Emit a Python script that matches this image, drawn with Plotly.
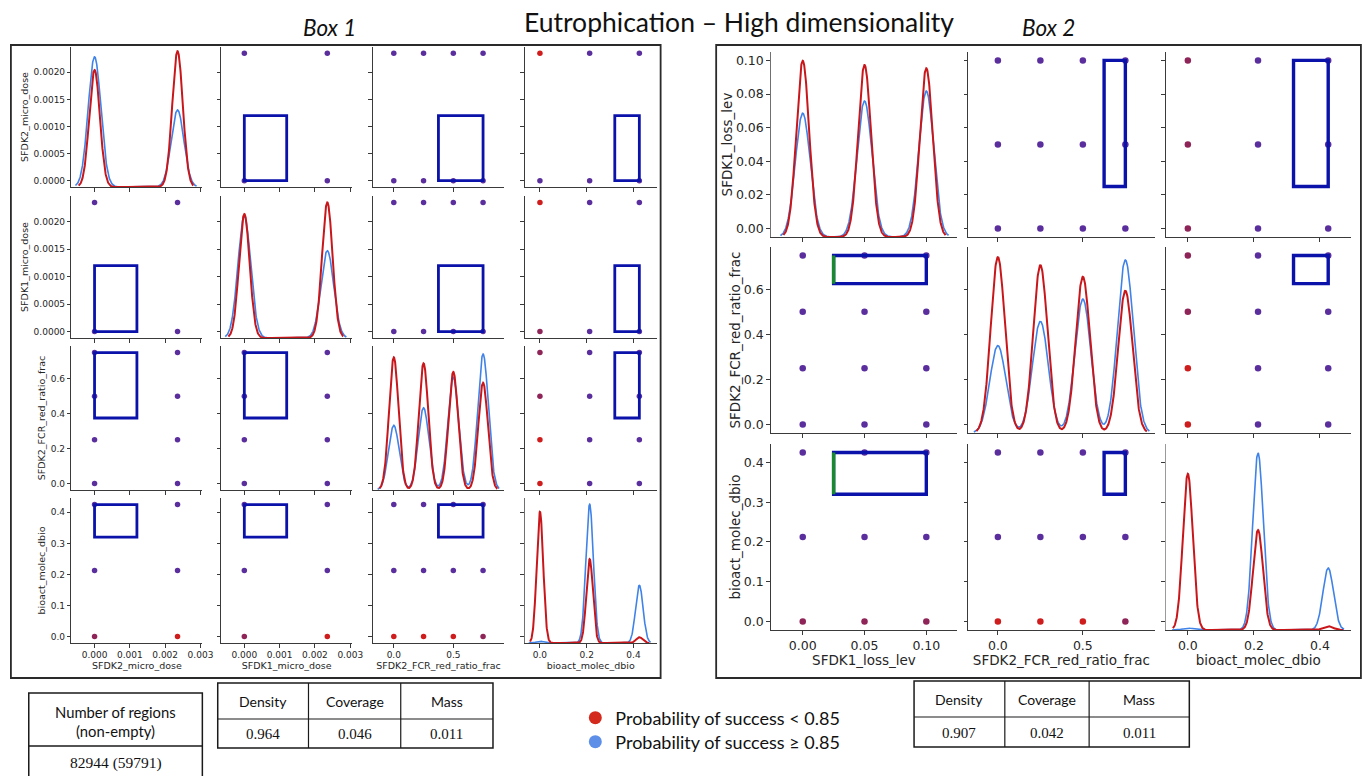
import numpy as np
import plotly.graph_objects as go

# ============================ DATA ============================
TITLE = "Eutrophication – High dimensionality"
BOX_TITLES = ["Box 1", "Box 2"]

# ---- Box 1 (4 variables) ----
B1_VARS = ["SFDK2_micro_dose", "SFDK1_micro_dose", "SFDK2_FCR_red_ratio_frac", "bioact_molec_dbio"]
B1_LEVELS = [[0.0, 0.00235], [0.0, 0.00235], [0.0, 0.25, 0.5, 0.75], [0.0, 0.2125, 0.425]]
B1_BOX = [[0.0, 0.0012], [0.0, 0.0012], [0.375, 0.75], [0.32, 0.425]]
# KDE peak heights (fraction of panel height) at each level
B1_KDE_RED = [[0.836, 0.97], [0.873, 0.955], [0.921, 0.88, 0.82, 0.745], [0.905, 0.579, 0.04]]
B1_KDE_BLUE = [[0.93, 0.55], [0.86, 0.615], [0.449, 0.571, 0.783, 0.944], [0.012, 0.957, 0.398]]
B1_BW_RED = [0.00015, 0.00015, 0.040, 0.014]
B1_BW_BLUE = [0.00018, 0.00018, 0.045, 0.016]
# point colour class per panel (row i = y variable, col j = x variable);
# list over y levels (low -> high), string over x levels.  P purple, R red, M maroon
B1_POINT_CLASS = {
    (0, 1): ["PP", "PP"],
    (0, 2): ["PPPP", "PPPP"],
    (0, 3): ["PPP", "RPP"],
    (1, 0): ["PP", "PP"],
    (1, 2): ["PPPP", "PPPP"],
    (1, 3): ["MPP", "RPP"],
    (2, 0): ["PP", "PP", "PP", "PP"],
    (2, 1): ["PP", "PP", "PP", "PP"],
    (2, 3): ["RPP", "RPP", "MPP", "MPP"],
    (3, 0): ["MR", "PP", "PP"],
    (3, 1): ["MR", "PP", "PP"],
    (3, 2): ["RRRM", "PPPP", "PPPP"],
}
B1_XRANGE = [[-0.000655, 0.003053], [-0.000655, 0.003053], [-0.175, 0.925], [-0.065, 0.499]]
B1_YRANGE = [[-0.0001175, 0.0024675], [-0.0001175, 0.0024675], [-0.0375, 0.7875], [-0.02125, 0.44625]]
B1_XTICKS = [[0, 0.001, 0.002, 0.003], [0, 0.001, 0.002, 0.003], [0, 0.5], [0, 0.2, 0.4]]
B1_XFMT = [".3f", ".3f", ".1f", ".1f"]
B1_YTICKS = [[0, 0.0005, 0.001, 0.0015, 0.002], [0, 0.0005, 0.001, 0.0015, 0.002],
             [0, 0.2, 0.4, 0.6], [0, 0.1, 0.2, 0.3, 0.4]]
B1_YFMT = [".4f", ".4f", ".1f", ".1f"]

# ---- Box 2 (3 variables) ----
B2_VARS = ["SFDK1_loss_lev", "SFDK2_FCR_red_ratio_frac", "bioact_molec_dbio"]
B2_LEVELS = [[0.0, 0.05, 0.1], [0.0, 0.25, 0.5, 0.75], [0.0, 0.2125, 0.425]]
B2_BOX = [[0.025, 0.1], [0.625, 0.75], [0.32, 0.425]]
B2_KDE_RED = [[0.953, 0.93, 0.912], [0.946, 0.903, 0.84, 0.765], [0.84, 0.538, 0.02]]
B2_KDE_BLUE = [[0.669, 0.735, 0.789], [0.47, 0.60, 0.72, 0.93], [0.01, 0.952, 0.333]]
B2_BW_RED = [0.0052, 0.042, 0.015]
B2_BW_BLUE = [0.0060, 0.047, 0.016]
B2_POINT_CLASS = {
    (0, 1): ["PPPP", "PPPP", "PPPP"],
    (0, 2): ["MPP", "MPP", "MPP"],
    (1, 0): ["PPP", "PPP", "PPP", "PPP"],
    (1, 2): ["RPP", "RPP", "MPP", "MPP"],
    (2, 0): ["MMM", "PPP", "PPP"],
    (2, 1): ["RRRM", "PPPP", "PPPP"],
}
B2_GREEN_EDGE_VAR = 0  # left edge of the SFDK1_loss_lev limit drawn in green
B2_XRANGE = [[-0.0259, 0.125], [-0.175, 0.922], [-0.0676, 0.494]]
B2_YRANGE = [[-0.005, 0.105], [-0.0375, 0.7875], [-0.02125, 0.44625]]
B2_XTICKS = [[0, 0.05, 0.1], [0, 0.5], [0, 0.2, 0.4]]
B2_XFMT = [".2f", ".1f", ".1f"]
B2_YTICKS = [[0, 0.02, 0.04, 0.06, 0.08, 0.1], [0, 0.2, 0.4, 0.6], [0, 0.1, 0.2, 0.3, 0.4]]
B2_YFMT = [".2f", ".1f", ".1f"]

# ---- tables & legend ----
T1_HEAD = ["Number of regions", "(non-empty)"]
T1_VALUE = "82944 (59791)"
METRIC_NAMES = ["Density", "Coverage", "Mass"]
B1_METRICS = ["0.964", "0.046", "0.011"]
B2_METRICS = ["0.907", "0.042", "0.011"]
LEGEND_NAMES = ["Probability of success < 0.85", "Probability of success ≥ 0.85"]

# ============================ STYLE / LAYOUT ============================
W, H = 1362, 776
RED_LINE = "#c8161a"
BLUE_LINE = "#3f82e8"
CLASS_COLORS = {"P": "#5b2e9e", "R": "#cf1c1c", "M": "#8e2458"}
LEGEND_COLORS = ["#d42a1e", "#5d8fe8"]
BOX_COLOR = "#0a12aa"
GREEN = "#178a2c"
AX_COLOR = "#3a3a3a"
SANS = "Lato"
MPL = "DejaVu Sans"
SERIF = "Liberation Serif"

B1_COL_PX = [(72, 204), (223, 355), (376, 508), (529, 662)]
B1_ROW_PX = [(47, 187), (196, 338), (346, 490), (498, 643)]
B2_COL_PX = [(777, 965), (976, 1164), (1175, 1362)]
B2_ROW_PX = [(52, 237), (247, 433), (444, 630)]

fig = go.Figure()
axes = {}
shapes = []
annotations = []
counter = {"x": 0, "y": 0}


def alloc(kind):
    counter[kind] += 1
    n = counter[kind]
    return kind + ("" if n == 1 else str(n))


def axname(ref):
    return ref[0] + "axis" + ref[1:]


def base_axis():
    return dict(showgrid=False, zeroline=False, showline=True, linecolor=AX_COLOR, linewidth=1,
                ticks="outside", ticklen=3.5, tickwidth=0.9, tickcolor=AX_COLOR, fixedrange=True)


def ydomain(ypx):
    return [1 - ypx[1] / H, 1 - ypx[0] / H]


def make_panel(xpx, ypx, xr, yr, xt, xf, yt, yf, show_xl, show_yl, xtitle, ytitle,
               tick_fs, title_fs, xstand, ystand):
    xref = alloc("x")
    yref = alloc("y")
    xa = base_axis()
    xa.update(domain=[xpx[0] / W, xpx[1] / W], range=xr, anchor=yref, tickvals=xt, tickformat=xf,
              showticklabels=show_xl, tickfont=dict(family=MPL, size=tick_fs, color="#262626"))
    if show_xl:
        xa["title"] = dict(text=xtitle, font=dict(family=MPL, size=title_fs, color="#262626"),
                           standoff=xstand)
    ya = base_axis()
    ya.update(domain=ydomain(ypx), range=yr, anchor=xref, tickvals=yt,
              tickformat=yf, showticklabels=show_yl,
              tickfont=dict(family=MPL, size=tick_fs, color="#262626"))
    if show_yl:
        ya["title"] = dict(text=ytitle, font=dict(family=MPL, size=title_fs, color="#262626"),
                           standoff=ystand)
    axes[axname(xref)] = xa
    axes[axname(yref)] = ya
    return xref, yref


def kde_curve(levels, heights, bw):
    xs = np.linspace(min(levels) - 3 * bw, max(levels) + 3 * bw, 700)
    ys = np.zeros_like(xs)
    for c, h in zip(levels, heights):
        ys = ys + h * np.exp(-0.5 * ((xs - c) / bw) ** 2)
    return xs, ys


def build_box(vars_, levels, box, kde_r, kde_b, bw_r, bw_b, classes, xrange_, yrange_,
              xticks, xfmt, yticks, yfmt, cols, rows, tick_fs, title_fs, box_w, mk, xstand,
              ystand, green_var=None):
    n = len(vars_)
    for i in range(n):
        for j in range(n):
            xref, yref = make_panel(cols[j], rows[i], xrange_[j], yrange_[i], xticks[j], xfmt[j],
                                    yticks[i], yfmt[i], i == n - 1, j == 0, vars_[j], vars_[i],
                                    tick_fs, title_fs, xstand, ystand)
            if i == j:
                # register the panel's own subplot (keeps its axes drawn in place)
                fig.add_trace(go.Scatter(x=[None], y=[None], xaxis=xref, yaxis=yref,
                                         mode="markers", hoverinfo="skip", showlegend=False))
                # hidden density axis spanning the same panel (like seaborn's diagonal twin axis)
                yo = alloc("y")
                axes[axname(yo)] = dict(domain=ydomain(rows[i]), anchor=xref, range=[0, 1],
                                        visible=False, fixedrange=True, showgrid=False,
                                        zeroline=False)
                for hts, bw, col, wd in ((kde_b[i], bw_b[i], BLUE_LINE, 1.6),
                                         (kde_r[i], bw_r[i], RED_LINE, 2.0)):
                    xs, ys = kde_curve(levels[i], hts, bw)
                    fig.add_trace(go.Scatter(x=xs, y=ys, xaxis=xref, yaxis=yo, mode="lines",
                                             line=dict(color=col, width=wd), hoverinfo="skip",
                                             showlegend=False))
            else:
                grid = classes[(i, j)]
                px_, py_, pc = [], [], []
                for yi, yv in enumerate(levels[i]):
                    for xi, xv in enumerate(levels[j]):
                        px_.append(xv)
                        py_.append(yv)
                        pc.append(CLASS_COLORS[grid[yi][xi]])
                fig.add_trace(go.Scatter(x=px_, y=py_, xaxis=xref, yaxis=yref, mode="markers",
                                         marker=dict(color=pc, size=mk, line=dict(width=0)),
                                         hoverinfo="skip", showlegend=False, cliponaxis=False))
                shapes.append(dict(type="rect", xref=xref, yref=yref, x0=box[j][0], x1=box[j][1],
                                   y0=box[i][0], y1=box[i][1],
                                   line=dict(color=BOX_COLOR, width=box_w), layer="above"))
                if green_var is not None and j == green_var:
                    shapes.append(dict(type="line", xref=xref, yref=yref, x0=box[j][0],
                                       x1=box[j][0], y0=box[i][0], y1=box[i][1],
                                       line=dict(color=GREEN, width=box_w), layer="above"))


build_box(B1_VARS, B1_LEVELS, B1_BOX, B1_KDE_RED, B1_KDE_BLUE, B1_BW_RED, B1_BW_BLUE,
          B1_POINT_CLASS, B1_XRANGE, B1_YRANGE, B1_XTICKS, B1_XFMT, B1_YTICKS, B1_YFMT,
          B1_COL_PX, B1_ROW_PX, 9, 9.5, 2.8, 5.5, 2, 3)
build_box(B2_VARS, B2_LEVELS, B2_BOX, B2_KDE_RED, B2_KDE_BLUE, B2_BW_RED, B2_BW_BLUE,
          B2_POINT_CLASS, B2_XRANGE, B2_YRANGE, B2_XTICKS, B2_XFMT, B2_YTICKS, B2_YFMT,
          B2_COL_PX, B2_ROW_PX, 12.5, 13.5, 3.4, 6.5, 3, 0, green_var=B2_GREEN_EDGE_VAR)


# ---------------- paper-level decorations ----------------
def p_rect(x0, y0, x1, y1, width, color="#1a1a1a"):
    shapes.append(dict(type="rect", xref="paper", yref="paper", x0=x0 / W, x1=x1 / W,
                       y0=1 - y1 / H, y1=1 - y0 / H, line=dict(color=color, width=width),
                       fillcolor="rgba(0,0,0,0)", layer="above"))


def p_line(x0, y0, x1, y1, width, color="#1a1a1a"):
    shapes.append(dict(type="line", xref="paper", yref="paper", x0=x0 / W, x1=x1 / W,
                       y0=1 - y0 / H, y1=1 - y1 / H, line=dict(color=color, width=width),
                       layer="above"))


def p_text(x, y, s, size, family, color="#111111"):
    annotations.append(dict(xref="paper", yref="paper", x=x / W, y=1 - y / H, text=s,
                            showarrow=False, xanchor="center", yanchor="middle",
                            font=dict(family=family, size=size, color=color)))


# box frames
p_rect(11, 45, 666, 678, 1.8, "#2a2a2a")
p_rect(722, 45, 1372, 678, 1.8, "#2a2a2a")

# titles
p_text(745, 22, TITLE, 26.5, SANS)
p_text(332, 28, "<i>" + BOX_TITLES[0] + "</i>", 22.5, SANS)
p_text(1057, 28, "<i>" + BOX_TITLES[1] + "</i>", 22.5, SANS)

# table: number of regions
p_rect(29, 693, 204, 790, 1.5)
p_line(29, 746, 204, 746, 1.5)
p_text(116.5, 712, T1_HEAD[0], 14.8, SANS)
p_text(116.5, 731, T1_HEAD[1], 14.8, SANS)
p_text(116.5, 763, T1_VALUE, 15.5, SERIF)


def metric_table(x_edges, y0, ymid, y1, values):
    p_rect(x_edges[0], y0, x_edges[-1], y1, 1.5)
    for xe in x_edges[1:-1]:
        p_line(xe, y0, xe, y1, 1.2)
    p_line(x_edges[0], ymid, x_edges[-1], ymid, 1.2)
    for k in range(3):
        cx = (x_edges[k] + x_edges[k + 1]) / 2
        p_text(cx, (y0 + ymid) / 2, METRIC_NAMES[k], 14, SANS)
        p_text(cx, (ymid + y1) / 2 + 0.5, values[k], 15, SERIF)


metric_table([219.5, 311, 404, 497], 683, 719, 748, B1_METRICS)
metric_table([921.5, 1013, 1098, 1199], 681, 717, 747, B2_METRICS)

# legend entries (one legend per entry so each row sits exactly where it should)
LEGEND_IDS = ["legend", "legend2"]
LEGEND_ROWS_PX = [718, 742]
for name, col, lid in zip(LEGEND_NAMES, LEGEND_COLORS, LEGEND_IDS):
    fig.add_trace(go.Scatter(x=[None], y=[None], mode="markers", name=name, legend=lid,
                             marker=dict(color=col, size=13), xaxis="x", yaxis="y"))

legend_common = dict(xanchor="left", yanchor="middle",
                     font=dict(family=SANS, size=18, color="#111111"),
                     bgcolor="rgba(0,0,0,0)", borderwidth=0, itemsizing="trace")

fig.update_layout(
    width=W, height=H, margin=dict(l=0, r=0, t=0, b=0, pad=0),
    paper_bgcolor="white", plot_bgcolor="white",
    shapes=shapes, annotations=annotations,
    showlegend=True,
    legend=dict(x=580 / W, y=1 - LEGEND_ROWS_PX[0] / H, **legend_common),
    legend2=dict(x=580 / W, y=1 - LEGEND_ROWS_PX[1] / H, **legend_common),
    **axes,
)

fig.write_html("out.html")
